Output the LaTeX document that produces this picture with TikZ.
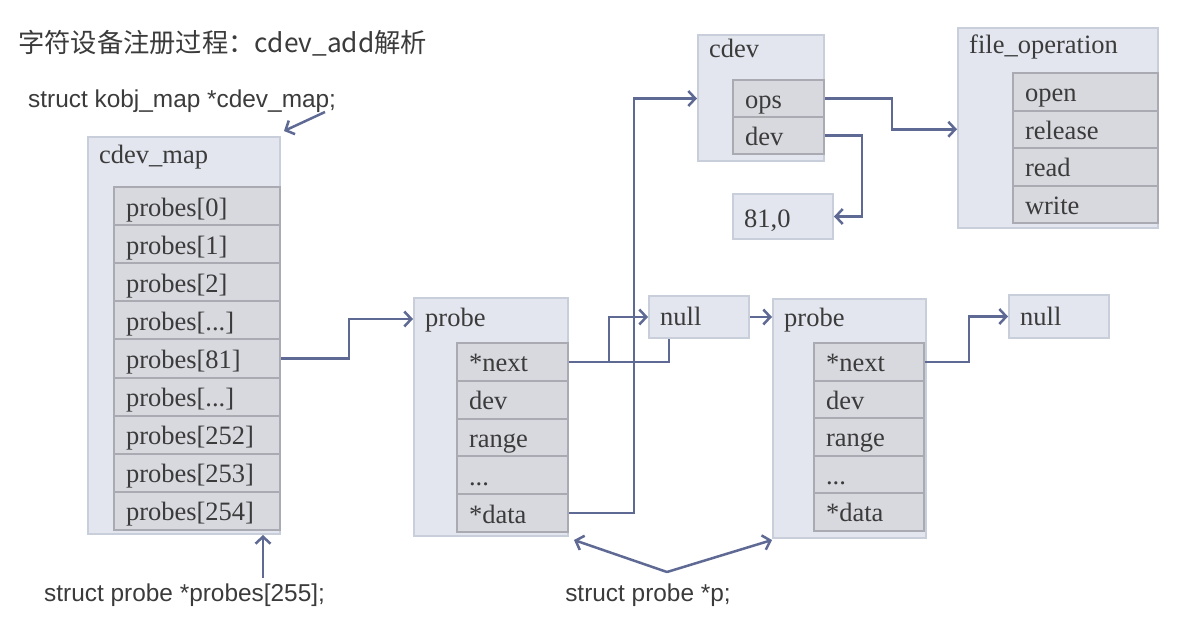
\documentclass[tikz,border=0pt]{standalone}
\usepackage{fontspec}
\setmainfont{Liberation Serif}
\setsansfont{Liberation Sans}
\newfontfamily\cjkfont{Noto Sans CJK SC}
\usetikzlibrary{arrows.meta,calc}
\definecolor{connc}{HTML}{5E6994}
\definecolor{outfill}{HTML}{E3E6EF}
\definecolor{outline}{HTML}{C9CEDB}
\definecolor{cellfill}{HTML}{D8D9DF}
\definecolor{cellline}{HTML}{A9AAB2}
\definecolor{txt}{HTML}{3B3B3B}
\newcommand\bxf{\fontsize{26.5}{30}\selectfont}
\newcommand\sxf{\sffamily\fontsize{24.4}{28}\selectfont}
\newcommand\mydots{...}
\tikzset{
  outerbox/.style={draw=outline, fill=outfill, line width=2pt, anchor=north west, inner sep=0pt},
  cellbox/.style={draw=cellline, fill=cellfill, line width=2pt, anchor=north west,
    inner xsep=12pt, inner ysep=0pt, text width=#1, align=left, font=\bxf, text=txt,
    text height=22pt, text depth=2pt},
  lbl/.style={anchor=base west, inner sep=0pt, font=\bxf, text=txt},
  conn/.style={draw=connc, line width=2.5pt, line join=miter},
  arr/.style={conn, -{Straight Barb[length=7pt,width=15pt]}},
  stxt/.style={anchor=west, inner sep=0pt, font=\sxf, text=txt}
}
\begin{document}
\begin{tikzpicture}[x=1pt,y=-1pt]
\useasboundingbox (0,0) rectangle (1202,632);
\fill[white] (0,0) rectangle (1202,632);

% title and captions
\node[anchor=west, inner sep=0pt, text=txt, font={\cjkfont\fontsize{26.3}{30}\selectfont}] (title) at (18,43) {字符设备注册过程：cdev\_add解析};
\node[stxt] (kobj) at (28,101) {struct kobj\_map *cdev\_map;};
\node[stxt] (probestxt) at (44,595) {struct probe *probes[255];};
\node[stxt, anchor=center] (ptxt) at (648,595) {struct probe *p;};

% cdev_map
\node[outerbox, minimum width=192pt, minimum height=397pt] (cmap) at (87,136) {};
\node[lbl] (cmapl) at (99,163) {cdev\_map};
\foreach \i/\t/\n in {0/probes[0]/c0,1/probes[1]/c1,2/probes[2]/c2,3/probes[\mydots]/c3,4/probes[81]/c81,5/probes[\mydots]/c5,6/probes[252]/c252,7/probes[253]/c253,8/probes[254]/c254}
  \node[cellbox=142pt, minimum height=38.1pt] (\n) at (113,186+\i*38.1) {\t};

% probe 1
\node[outerbox, minimum width=154pt, minimum height=238pt] (pr1) at (413,297) {};
\node[lbl] (pr1l) at (425,326) {probe};
\foreach \i/\t/\n in {0/*next/na,1/dev/dva,2/range/ra,3/\mydots/ea,4/*data/da}
  \node[cellbox=87pt, minimum height=37.8pt] (\n) at (456,342+\i*37.8) {\t};

% probe 2
\node[outerbox, minimum width=153pt, minimum height=239pt] (pr2) at (772,298) {};
\node[lbl] (pr2l) at (784,326) {probe};
\foreach \i/\t/\n in {0/*next/nb,1/dev/dvb,2/range/rb,3/\mydots/eb,4/*data/db}
  \node[cellbox=86pt, minimum height=37.5pt] (\n) at (813,342+\i*37.5) {\t};

% null boxes
\node[outerbox, minimum width=100pt, minimum height=42pt] (null1) at (648,295) {};
\node[lbl] (null1l) at (660,325) {null};
\node[outerbox, minimum width=100pt, minimum height=43pt] (null2) at (1008,294) {};
\node[lbl] (null2l) at (1020,325) {null};

% cdev
\node[outerbox, minimum width=126pt, minimum height=126pt] (cdev) at (697,34) {};
\node[lbl] (cdevl) at (709,57) {cdev};
\node[cellbox=67pt, minimum height=37pt] (ops) at (732,79) {ops};
\node[cellbox=67pt, minimum height=37pt] (dev) at (732,116) {dev};

% 81,0
\node[outerbox, minimum width=100pt, minimum height=45pt] (num) at (732,193) {};
\node[lbl] (numl) at (744,227) {81,0};

% file_operation
\node[outerbox, minimum width=200pt, minimum height=200pt] (fop) at (957,27) {};
\node[lbl] (fopl) at (969,53) {file\_operation};
\foreach \i/\t/\n in {0/open/fo,1/release/fr,2/read/frd,3/write/fw}
  \node[cellbox=121pt, minimum height=37.5pt] (\n) at (1012,72+\i*37.5) {\t};

% connectors
\coordinate (k1) at (325,112);
\draw[arr] (k1) -- ($(cmap.north east)+(3,-5)$);
\coordinate (pb) at (263,578);
\draw[arr] (pb) -- (pb |- cmap.south);
\draw[arr] (c81.east) -- ++(68,0) |- (pr1.west |- 0,319);
\draw[conn] (na.east) -| ($(null1.south west)+(21,0)$);
\draw[arr] ($(na.east)+(40,0)$) |- (null1.west);
\draw[arr] (da.east) -- ++(65,0) |- (cdev.west |- ops.center);
\draw[arr] (null1.east) -- (pr2.west |- null1.east);
\draw[arr] (nb.east) -- ++(44,0) |- (null2.west);
\draw[arr] (ops.east) -- ++(67,0) |- (fop.west |- fr.center);
\draw[arr] (dev.east) -- ++(37,0) |- (num.east);
\coordinate (apex) at (667,572);
\draw[arr] (apex) -- ($(pr1.south east)+(5,3)$);
\draw[arr] (apex) -- ($(pr2.south west)+(0,1)$);
\end{tikzpicture}
\end{document}
